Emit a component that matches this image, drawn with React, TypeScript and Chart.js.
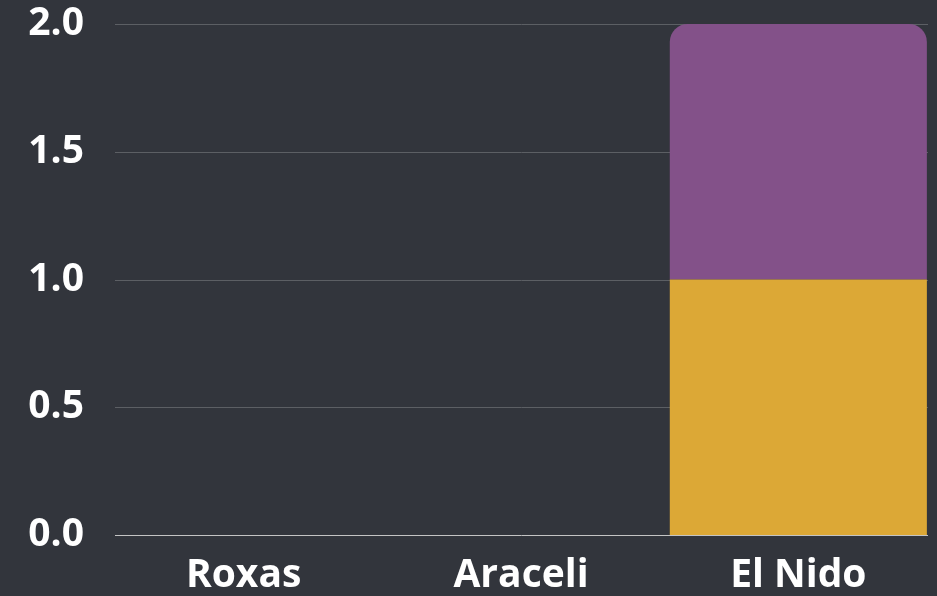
import React, { useEffect, useRef } from "react";
import { Chart, registerables } from "chart.js";

Chart.register(...registerables);

const categories = ["Roxas", "Araceli", "El Nido"];
const goldValues = [0, 0, 1];
const purpleValues = [0, 0, 1];
const yTicks = [0, 0.5, 1, 1.5, 2];

const insetGrid = {
  id: "insetGrid",
  beforeDatasetsDraw(chart: any) {
    const { ctx, chartArea, scales } = chart;
    const y = scales.y;
    ctx.save();
    ctx.lineWidth = 1;
    y.ticks.forEach((t: any) => {
      const py = Math.round(y.getPixelForValue(t.value)) + 0.5;
      ctx.strokeStyle = t.value === 0 ? "#c4c4c4" : "#5c5f64";
      ctx.beginPath();
      ctx.moveTo(chartArea.left + 10, py);
      ctx.lineTo(chartArea.right - 9, py);
      ctx.stroke();
    });
    ctx.restore();
  },
};

export default function App() {
  const ref = useRef<HTMLCanvasElement>(null);
  useEffect(() => {
    if (!ref.current) return;
    const chart = new Chart(ref.current, {
      type: "bar",
      data: {
        labels: categories,
        datasets: [
          {
            label: "A",
            data: goldValues,
            backgroundColor: "#dca836",
            borderRadius: 0,
            borderSkipped: false,
            categoryPercentage: 1,
            barPercentage: 0.927,
          },
          {
            label: "B",
            data: purpleValues,
            backgroundColor: "#835189",
            borderRadius: { topLeft: 18, topRight: 18, bottomLeft: 0, bottomRight: 0 },
            borderSkipped: false,
            categoryPercentage: 1,
            barPercentage: 0.927,
          },
        ],
      },
      options: {
        animation: false,
        responsive: false,
        maintainAspectRatio: false,
        layout: { padding: { top: 24, right: 0, left: 0, bottom: 0 } },
        plugins: { legend: { display: false }, tooltip: { enabled: false } },
        scales: {
          x: {
            stacked: true,
            grid: { display: false },
            border: { display: false },
            ticks: {
              color: "#ffffff",
              padding: 9,
              font: { family: "Open Sans", size: 39, weight: "bold" },
            },
            afterFit: (s: any) => {
              s.height = 61;
              s.paddingLeft = 0;
              s.paddingRight = 0;
            },
          },
          y: {
            stacked: true,
            min: 0,
            max: 2,
            afterBuildTicks: (s: any) => {
              s.ticks = yTicks.map((v) => ({ value: v }));
            },
            grid: { display: false },
            border: { display: false },
            ticks: {
              color: "#ffffff",
              padding: 13,
              font: { family: "Open Sans", size: 39, weight: "bold" },
              callback: (v: any) => Number(v).toFixed(1),
            },
            afterFit: (s: any) => {
              s.width = 105;
              s.paddingTop = 0;
              s.paddingBottom = 0;
            },
          },
        },
      },
      plugins: [insetGrid],
    });
    return () => chart.destroy();
  }, []);
  return (
    <div style={{ position: "fixed", left: 0, top: 0, width: 937, height: 596, background: "#32353c" }}>
      <canvas ref={ref} width={937} height={596} style={{ display: "block" }} />
    </div>
  );
}
